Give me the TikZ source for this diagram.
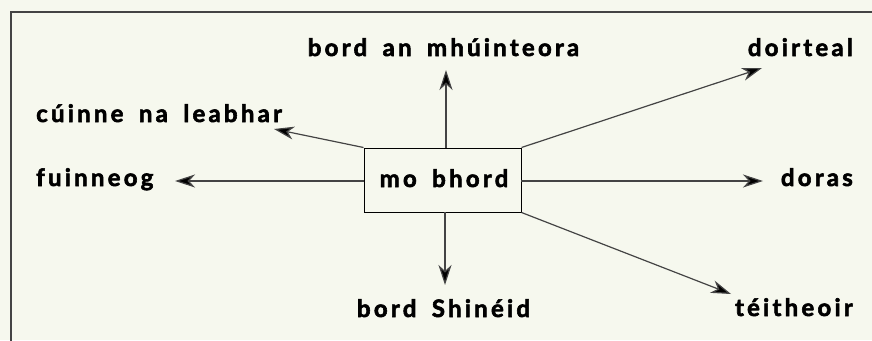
\documentclass[tikz,border=0pt]{standalone}
\usepackage{fontspec}
\setmainfont{Lato}[LetterSpace=13.5, WordSpace=1.7, BoldFeatures={FakeBold=2.4}]
\usetikzlibrary{arrows.meta}
\definecolor{bg}{HTML}{F6F8EE}
\definecolor{ln}{HTML}{444444}
\tikzset{
  lbl/.style={font=\fontsize{24}{27}\selectfont\bfseries, inner sep=0pt, text=black},
  arr/.style={draw=ln, line width=1.2pt, -{Stealth[length=20pt,width=13pt,inset=6pt,fill=black]}},
  boxst/.style={draw=black, line width=1pt, minimum width=157pt, minimum height=64pt, inner sep=0pt, fill=bg}
}
\begin{document}
\begin{tikzpicture}[x=1pt,y=-1pt]
\useasboundingbox (0,0) rectangle (872,340);
\fill[bg] (0,0) rectangle (872,340);
\begin{scope}
\clip (0,0) rectangle (872,340);
\draw[draw=ln, line width=1.6pt] (11,12) rectangle (890,360);
\end{scope}
\node[boxst] (box) at (442.5,180) {};
\node[lbl, anchor=base] (mo) at (444,187) {mo bhord};
\node[lbl, anchor=base] (bam) at (443.5,56) {bord an mhúinteora};
\node[lbl, anchor=base east] (doi) at (853,56) {doirteal};
\node[lbl, anchor=base west] (cui) at (36,122) {cúinne na leabhar};
\node[lbl, anchor=base west] (fui) at (36,186) {fuinneog};
\node[lbl, anchor=base east] (dor) at (853,186) {doras};
\node[lbl, anchor=base] (bsh) at (443.5,317) {bord Shinéid};
\node[lbl, anchor=base east] (tei) at (853,316) {téitheoir};
\coordinate (tup) at (446,70);
\coordinate (tcui) at (274,129);
\coordinate (tfui) at (175,181);
\coordinate (tdoi) at (762,68);
\coordinate (tdor) at (763,181);
\coordinate (tdown) at (445,285);
\coordinate (ttei) at (731,294);
\coordinate (sup) at (446,148);
\coordinate (sdown) at (445,212);
\coordinate (sfui) at (364,181);
\coordinate (sdor) at (521,181);
\draw[arr] (sup) -- (tup);
\draw[arr] (box.north west) -- (tcui);
\draw[arr] (sfui) -- (tfui);
\draw[arr] (box.north east) -- (tdoi);
\draw[arr] (sdor) -- (tdor);
\draw[arr] (sdown) -- (tdown);
\draw[arr] (box.south east) -- (ttei);
\end{tikzpicture}
\end{document}
